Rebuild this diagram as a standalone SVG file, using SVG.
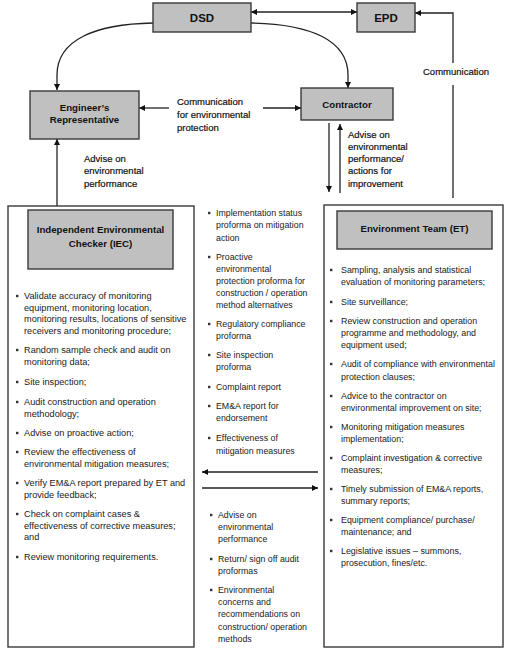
<svg xmlns="http://www.w3.org/2000/svg" xmlns:xlink="http://www.w3.org/1999/xlink" width="511" height="654" viewBox="0 0 511 654">
<style>
.bg{fill:#ffffff}
.gbox{fill:#c0c0c0;stroke:#3a3a3a;stroke-width:1.4}
.obox{fill:#ffffff;stroke:#3a3a3a;stroke-width:1.4}
.ttl{font-family:"Liberation Sans",Arial,sans-serif;font-weight:bold;fill:#111;text-anchor:middle}
.big{font-size:11.5px}
.med{font-size:9.7px}
.lbl{font-family:"Liberation Sans",Arial,sans-serif;font-size:9.5px;fill:#111;stroke:#111;stroke-width:0.2}
.txt{font-family:"Liberation Sans",Arial,sans-serif;font-size:9.2px;fill:#1a1a1a}
.txtm{font-size:8.8px}
.txtr{font-size:8.9px}
.con{fill:none;stroke:#222;stroke-width:1.3}
</style>
<defs>
<marker id="ah" viewBox="0 0 10 10" refX="10" refY="5" markerWidth="6" markerHeight="6" orient="auto-start-reverse" markerUnits="userSpaceOnUse">
<path d="M0,0 L10,5 L0,10 z" fill="#111"/>
</marker>
<rect id="b" width="2.4" height="2.4" fill="#333"/>
</defs>
<rect class="bg" x="0" y="0" width="511" height="654"/>

<g id="connectors">
<path class="con" d="M251,12 H357" marker-start="url(#ah)" marker-end="url(#ah)"/>
<path class="con" d="M453,63 V13 H415" marker-end="url(#ah)"/>
<path class="con" d="M453,85 V198"/>
<path class="con" d="M153,23 C95,24 57,40 57,75 L57,90" marker-end="url(#ah)"/>
<path class="con" d="M251,23 C310,24 348,40 348,75 L348,88" marker-end="url(#ah)"/>
<path class="con" d="M169,108 H139" marker-end="url(#ah)"/>
<path class="con" d="M263,108 H301" marker-end="url(#ah)"/>
<path class="con" d="M329,123 V192" marker-end="url(#ah)"/>
<path class="con" d="M340,193 V124" marker-end="url(#ah)"/>
<path class="con" d="M57,206 V139" marker-end="url(#ah)"/>
<path class="con" d="M318,472 H202" marker-end="url(#ah)"/>
<path class="con" d="M202,488 H318" marker-end="url(#ah)"/>
</g>

<g id="labels">
<text class="lbl" x="423" y="74.5">Communication</text>
<text class="lbl"><tspan x="177" y="104.5">Communication</tspan><tspan x="177" y="117.5">for environmental</tspan><tspan x="177" y="130.5">protection</tspan></text>
<text class="lbl"><tspan x="348" y="137.5">Advise on</tspan><tspan x="348" y="149.8">environmental</tspan><tspan x="348" y="162">performance/</tspan><tspan x="348" y="174.3">actions for</tspan><tspan x="348" y="186.5">improvement</tspan></text>
<text class="lbl"><tspan x="84" y="161.5">Advise on</tspan><tspan x="84" y="174">environmental</tspan><tspan x="84" y="186.5">performance</tspan></text>
</g>

<g id="dsd">
<rect class="gbox" x="153" y="3" width="98" height="29"/>
<text class="ttl big" x="202" y="22">DSD</text>
</g>
<g id="epd">
<rect class="gbox" x="357" y="3" width="58" height="29"/>
<text class="ttl big" x="386" y="22">EPD</text>
</g>
<g id="engineer">
<rect class="gbox" x="30" y="91" width="109" height="48"/>
<text class="ttl med"><tspan x="84.5" y="110.5">Engineer’s</tspan><tspan x="84.5" y="123">Representative</tspan></text>
</g>
<g id="contractor">
<rect class="gbox" x="301" y="88" width="92" height="32"/>
<text class="ttl med" x="347" y="107.5">Contractor</text>
</g>

<g id="iec">
<rect class="obox" x="8" y="206" width="186" height="441"/>
<rect class="gbox" x="28" y="210" width="145" height="59"/>
<text class="ttl med"><tspan x="100.5" y="233">Independent Environmental</tspan><tspan x="100.5" y="246.5">Checker (IEC)</tspan></text>
<g class="txt">
<use href="#b" x="16" y="294.8"/>
<text><tspan x="24" y="299">Validate accuracy of monitoring</tspan><tspan x="24" y="310.7">equipment, monitoring location,</tspan><tspan x="24" y="322.4">monitoring results, locations of sensitive</tspan><tspan x="24" y="334.1">receivers and monitoring procedure;</tspan></text>
<use href="#b" x="16" y="348.8"/>
<text><tspan x="24" y="353">Random sample check and audit on</tspan><tspan x="24" y="364.7">monitoring data;</tspan></text>
<use href="#b" x="16" y="380.8"/>
<text x="24" y="385">Site inspection;</text>
<use href="#b" x="16" y="400.8"/>
<text><tspan x="24" y="405">Audit construction and operation</tspan><tspan x="24" y="416.7">methodology;</tspan></text>
<use href="#b" x="16" y="431.8"/>
<text x="24" y="436">Advise on proactive action;</text>
<use href="#b" x="16" y="450.8"/>
<text><tspan x="24" y="455">Review the effectiveness of</tspan><tspan x="24" y="466.7">environmental mitigation measures;</tspan></text>
<use href="#b" x="16" y="481.8"/>
<text><tspan x="24" y="486">Verify EM&amp;A report prepared by ET and</tspan><tspan x="24" y="497.7">provide feedback;</tspan></text>
<use href="#b" x="16" y="512.8"/>
<text><tspan x="24" y="517">Check on complaint cases &amp;</tspan><tspan x="24" y="528.7">effectiveness of corrective measures;</tspan><tspan x="24" y="540.4">and</tspan></text>
<use href="#b" x="16" y="555.8"/>
<text x="24" y="560">Review monitoring requirements.</text>
</g>
</g>

<g id="documents">
<g class="txt txtm">
<use href="#b" x="208" y="211.8"/>
<text><tspan x="216" y="216">Implementation status</tspan><tspan x="216" y="228.3">proforma on mitigation</tspan><tspan x="216" y="240.6">action</tspan></text>
<use href="#b" x="208" y="255.8"/>
<text><tspan x="216" y="260">Proactive</tspan><tspan x="216" y="272">environmental</tspan><tspan x="216" y="284">protection proforma for</tspan><tspan x="216" y="296">construction / operation</tspan><tspan x="216" y="308">method alternatives</tspan></text>
<use href="#b" x="208" y="322.8"/>
<text><tspan x="216" y="327">Regulatory compliance</tspan><tspan x="216" y="339">proforma</tspan></text>
<use href="#b" x="208" y="353.8"/>
<text><tspan x="216" y="358">Site inspection</tspan><tspan x="216" y="370">proforma</tspan></text>
<use href="#b" x="208" y="385.8"/>
<text x="216" y="390">Complaint report</text>
<use href="#b" x="208" y="404.8"/>
<text><tspan x="216" y="409">EM&amp;A report for</tspan><tspan x="216" y="421">endorsement</tspan></text>
<use href="#b" x="208" y="436.8"/>
<text><tspan x="216" y="441">Effectiveness of</tspan><tspan x="216" y="453.5">mitigation measures</tspan></text>
</g>
</g>

<g id="feedback">
<g class="txt txtm">
<use href="#b" x="210" y="513.8"/>
<text><tspan x="218" y="518">Advise on</tspan><tspan x="218" y="530">environmental</tspan><tspan x="218" y="542">performance</tspan></text>
<use href="#b" x="210" y="557.8"/>
<text><tspan x="218" y="562">Return/ sign off audit</tspan><tspan x="218" y="574">proformas</tspan></text>
<use href="#b" x="210" y="588.8"/>
<text><tspan x="218" y="593">Environmental</tspan><tspan x="218" y="605">concerns and</tspan><tspan x="218" y="617">recommendations on</tspan><tspan x="218" y="630">construction/ operation</tspan><tspan x="218" y="642">methods</tspan></text>
</g>
</g>

<g id="et">
<rect class="obox" x="324" y="205" width="179" height="442"/>
<rect class="gbox" x="337" y="211" width="155" height="38"/>
<text class="ttl med" x="414.5" y="231.5">Environment Team (ET)</text>
<g class="txt txtr">
<use href="#b" x="330" y="268.8"/>
<text><tspan x="341" y="273">Sampling, analysis and statistical</tspan><tspan x="341" y="285">evaluation of monitoring parameters;</tspan></text>
<use href="#b" x="330" y="300.8"/>
<text x="341" y="305">Site surveillance;</text>
<use href="#b" x="330" y="319.8"/>
<text><tspan x="341" y="324">Review construction and operation</tspan><tspan x="341" y="336">programme and methodology, and</tspan><tspan x="341" y="348">equipment used;</tspan></text>
<use href="#b" x="330" y="362.8"/>
<text><tspan x="341" y="367">Audit of compliance with environmental</tspan><tspan x="341" y="379.5">protection clauses;</tspan></text>
<use href="#b" x="330" y="394.8"/>
<text><tspan x="341" y="399">Advice to the contractor on</tspan><tspan x="341" y="410.5">environmental improvement on site;</tspan></text>
<use href="#b" x="330" y="425.8"/>
<text><tspan x="341" y="430">Monitoring mitigation measures</tspan><tspan x="341" y="442">implementation;</tspan></text>
<use href="#b" x="330" y="456.8"/>
<text><tspan x="341" y="461">Complaint investigation &amp; corrective</tspan><tspan x="341" y="473">measures;</tspan></text>
<use href="#b" x="330" y="487.8"/>
<text><tspan x="341" y="492">Timely submission of EM&amp;A reports,</tspan><tspan x="341" y="504">summary reports;</tspan></text>
<use href="#b" x="330" y="518.8"/>
<text><tspan x="341" y="523">Equipment compliance/ purchase/</tspan><tspan x="341" y="535">maintenance; and</tspan></text>
<use href="#b" x="330" y="549.8"/>
<text><tspan x="341" y="554">Legislative issues – summons,</tspan><tspan x="341" y="566">prosecution, fines/etc.</tspan></text>
</g>
</g>
</svg>
